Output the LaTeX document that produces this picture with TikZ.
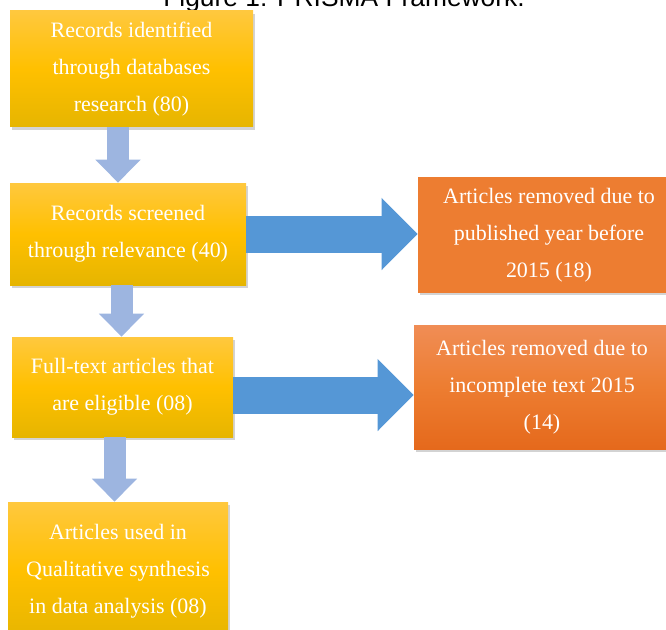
\documentclass[tikz,border=0pt]{standalone}
\usepackage{xcolor}
\usepackage{fontspec}
\setmainfont{Liberation Serif}
\newfontfamily\titlefont{Liberation Sans}
\usepackage{tikz}
\usetikzlibrary{arrows.meta,shadows}

\definecolor{boxyellow}{HTML}{FFC000}
\definecolor{boxyellowtop}{HTML}{FFC83E}
\definecolor{boxyellowbot}{HTML}{E6B500}
\definecolor{boxorange}{HTML}{ED7D31}
\definecolor{boxorangetop}{HTML}{F08D55}
\definecolor{boxorangebot}{HTML}{E5691C}
\definecolor{arrowblue}{HTML}{5597D6}
\definecolor{arrowpale}{HTML}{9DB5E0}

\begin{document}
\begin{tikzpicture}[
  stage/.style={inner sep=0pt, align=center, text=white,
    font=\fontsize{12.5}{21}\selectfont,
    top color=boxyellowtop, bottom color=boxyellowbot, middle color=boxyellow,
    drop shadow={shadow xshift=0.04cm, shadow yshift=-0.06cm, opacity=0.35}},
  removed/.style={stage, top color=boxorange, bottom color=boxorange, middle color=boxorange},
  removedlight/.style={stage, top color=boxorangetop, bottom color=boxorangebot, middle color=boxorange},
  downarrow/.style={arrowpale, line width=0.44cm, -{Triangle[length=0.46cm,width=0.88cm]}},
  sidearrow/.style={arrowblue, line width=0.74cm, -{Triangle[length=0.72cm,width=1.40cm]}}
]
  \useasboundingbox (0,0) rectangle (13.32,12.58);

  \node[anchor=base, font=\titlefont\fontsize{15}{18}\selectfont] (title) at (6.88,12.44) {Figure 1: PRISMA Framework.};

  \node[stage, minimum width=4.86cm, minimum height=2.32cm] (identified) at (2.63,11.20)
    {Records identified\\through databases\\research (80)};
  \node[stage, minimum width=4.72cm, minimum height=2.04cm] (screened) at (2.56,7.90)
    {Records screened\\through relevance (40)};
  \node[removed, minimum width=5.24cm, minimum height=2.28cm] (byyear) at (10.98,7.88)
    {Articles removed due to\\published year before\\2015 (18)};
  \node[stage, minimum width=4.42cm, minimum height=2.00cm] (eligible) at (2.45,4.84)
    {Full-text articles that\\are eligible (08)};
  \node[removedlight, minimum width=5.12cm, minimum height=2.48cm] (bytext) at (10.84,4.84)
    {Articles removed due to\\incomplete text 2015\\(14)};
  \node[stage, minimum width=4.40cm, minimum height=2.76cm] (included) at (2.36,1.16)
    {Articles used in\\Qualitative synthesis\\in data analysis (08)};

  \draw[downarrow] ([xshift=-0.27cm]identified.south) -- ([xshift=-0.27cm]identified.south |- screened.north);
  \draw[downarrow] ([xshift=-0.13cm]screened.south) -- ([xshift=-0.13cm]screened.south |- eligible.north);
  \draw[downarrow] ([xshift=-0.16cm]eligible.south) -- ([xshift=-0.16cm]eligible.south |- included.north);

  \draw[sidearrow] (screened.east) -- (screened.east -| byyear.west);
  \draw[sidearrow] ([yshift=-0.16cm]eligible.east) -- ([yshift=-0.16cm]eligible.east -| bytext.west);
\end{tikzpicture}
\end{document}
